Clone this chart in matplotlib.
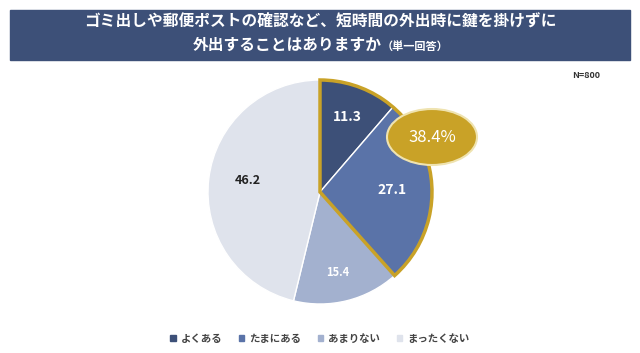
import matplotlib.pyplot as plt
from matplotlib.patches import Rectangle, Wedge, Ellipse, Patch

plt.rcParams['font.family'] = ['Noto Sans CJK JP', 'DejaVu Sans']

categories = ['よくある', 'たまにある', 'あまりない', 'まったくない']
values = [11.3, 27.1, 15.4, 46.2]
colors = ['#3d5078', '#5a73a8', '#a3b1cf', '#dfe3ec']
label_colors = ['white', 'white', 'white', '#222222']
highlight = 38.4

fig = plt.figure(figsize=(6.4, 3.53), dpi=100)
ax = fig.add_axes([0, 0, 1, 1])

# title box
ax.add_patch(Rectangle((10, 293), 620, 50, color='#3d5078'))
ax.text(320, 331, 'ゴミ出しや郵便ポストの確認など、短時間の外出時に鍵を掛けずに',
        ha='center', va='center', color='white', fontsize=11.3, fontweight='bold')
ax.text(382, 308, '外出することはありますか', ha='right', va='center',
        color='white', fontsize=11.3, fontweight='bold')
ax.text(382, 307, '（単一回答）', ha='left', va='center',
        color='white', fontsize=8, fontweight='bold')
ax.text(600, 278, 'N=800', ha='right', va='center', color='#333333',
        fontsize=6.5, fontweight='bold')

cx, cy, r = 320, 161, 112
wedges, texts = ax.pie(values, colors=colors, startangle=90, counterclock=False,
                       center=(cx, cy), radius=r, frame=True,
                       wedgeprops=dict(edgecolor='white', linewidth=1))
ax.set_xlim(0, 640)
ax.set_ylim(0, 353)
ax.set_aspect('equal')
ax.axis('off')

# gold outline around the first two slices
ang = highlight / 100 * 360
ax.add_patch(Wedge((cx, cy), r, 90 - ang, 90, fill=False,
                   edgecolor='#c9a227', linewidth=2.5))

label_pos = [(347, 236), (392, 163), (338, 81), (248, 173)]
label_size = [10, 10, 8, 9]
for v, (x, y), c, s in zip(values, label_pos, label_colors, label_size):
    ax.text(x, y, f'{v}', ha='center', va='center', color=c,
            fontsize=s, fontweight='bold')

ax.add_patch(Ellipse((432, 216), 90, 56, facecolor='#c9a227',
                     edgecolor='#efe3b0', linewidth=1.5))
ax.text(432, 216, f'{highlight}%', ha='center', va='center', color='white',
        fontsize=12)

handles = [Patch(color=c, label=l) for c, l in zip(colors, categories)]
fig.legend(handles=handles, loc='lower center', bbox_to_anchor=(0.5, 0.0),
           ncol=4, frameon=False, handlelength=0.5,
           handleheight=0.5, columnspacing=1.6, handletextpad=0.5,
           labelcolor='#444444', prop=dict(size=7.5, weight='bold'))

fig.savefig('out.png', dpi=100)
